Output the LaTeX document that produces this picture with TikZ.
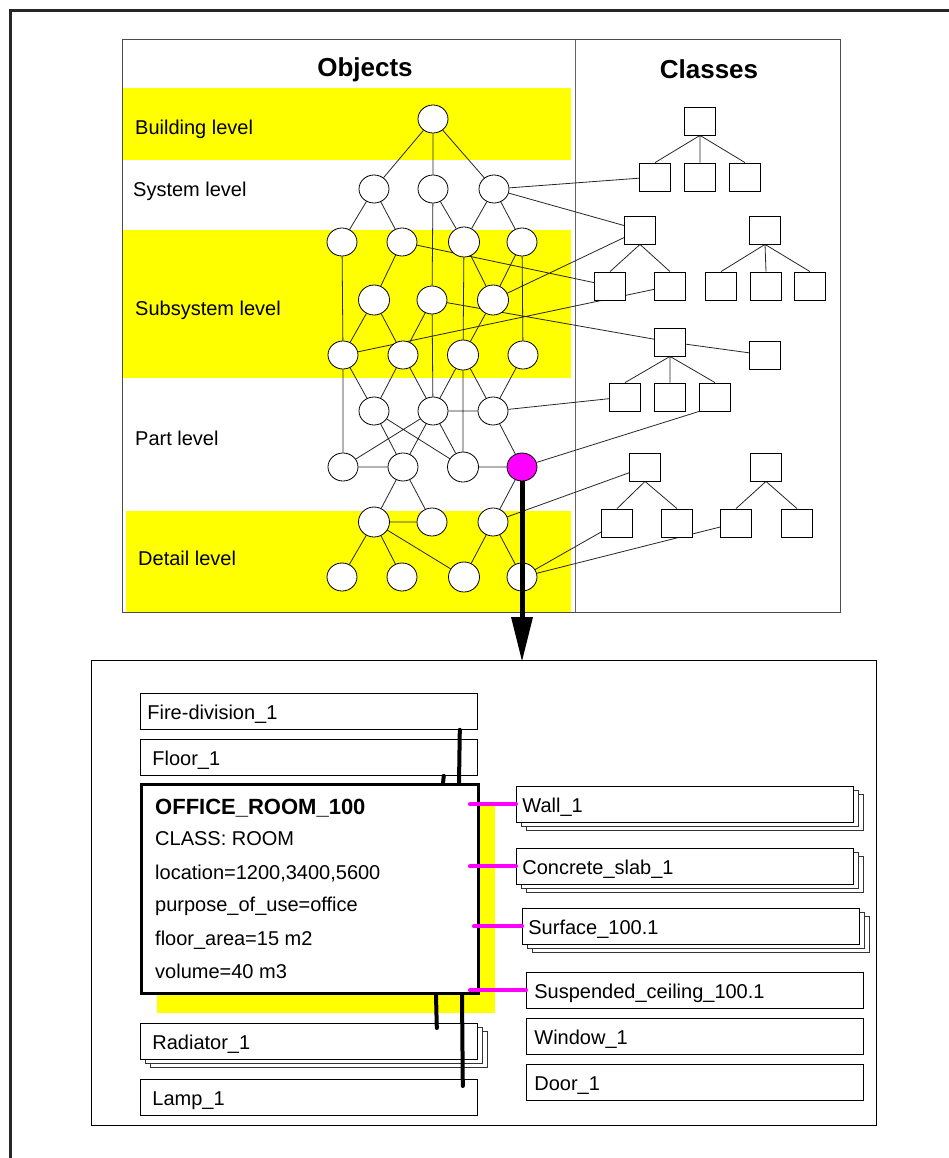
\documentclass[tikz,border=0pt]{standalone}
\usepackage{fontspec}
\setmainfont{Liberation Sans}
\usetikzlibrary{shapes.geometric,shadows}
\pgfdeclarelayer{bands}
\pgfdeclarelayer{edges}
\pgfsetlayers{bands,edges,main}
\definecolor{hiyellow}{RGB}{255,255,0}
\definecolor{hipink}{RGB}{255,0,255}
\begin{document}
\begin{tikzpicture}[x=1pt,y=-1pt,
  objn/.style={ellipse,draw,fill=white,line width=0.8pt,minimum width=30pt,minimum height=28pt,inner sep=0pt},
  bign/.style={objn,minimum width=31pt,minimum height=30pt},
  clsn/.style={rectangle,draw,fill=white,line width=0.8pt,minimum width=31pt,minimum height=28pt,inner sep=0pt},
  gline/.style={line width=0.8pt,black!85},
  hdr/.style={font=\fontsize{26}{30}\selectfont\bfseries,inner sep=0pt,anchor=base},
  lvl/.style={font=\fontsize{20}{24}\selectfont,inner sep=0pt,anchor=base west},
  ibox/.style={rectangle,draw,fill=white,line width=0.8pt,anchor=north west,minimum height=36pt,inner sep=0pt,text height=18pt,text depth=2pt,text width=337pt,align=left,font=\fontsize{20}{24}\selectfont},
  stack/.style={general shadow={shadow xshift=10pt,shadow yshift=-8pt,fill=white,draw=black!80,line width=0.8pt},
                general shadow={shadow xshift=5pt,shadow yshift=-4pt,fill=white,draw=black!80,line width=0.8pt}},
  otext/.style={font=\fontsize{20}{24}\selectfont,inner sep=0pt,anchor=base west},
  thickln/.style={line width=4pt,line cap=round},
  pinkln/.style={line width=4pt,draw=hipink,line cap=round},
]
\useasboundingbox (0,0) rectangle (949,1158);

% outer frame
\draw[line width=3pt,black!85] (949,10.5) -- (10.5,10.5) -- (10.5,1158);

% bands
\begin{pgfonlayer}{bands}
\fill[hiyellow] (123,88) rectangle (571,160);
\fill[hiyellow] (123,230) rectangle (571,378);
\fill[hiyellow] (126,511) rectangle (571,612);
\draw[line width=1pt,black!70] (122,40) rectangle (840,612);
\draw[line width=1pt,black!60] (575,40) -- (575,612);
\fill[hiyellow] (157,802) rectangle (495,1013);
\end{pgfonlayer}

% headers and level labels
\node[hdr] (hobj) at (365,77) {Objects};
\node[hdr] (hcls) at (709,79) {Classes};
\node[lvl] (lbld) at (135,135) {Building level};
\node[lvl] (lsys) at (133,197) {System level};
\node[lvl] (lsub) at (135,315) {Subsystem level};
\node[lvl] (lpart) at (135,445) {Part level};
\node[lvl] (ldet) at (138,565) {Detail level};

% object nodes
\node[objn] (bld) at (433,119) {};
\node[objn] (sys1) at (374,189) {};
\node[objn] (sys2) at (433,189) {};
\node[objn] (sys3) at (494,189) {};
\node[objn] (sa1) at (342,242) {};
\node[objn] (sa2) at (402,242) {};
\node[bign] (sa3) at (464,242) {};
\node[objn] (sa4) at (522,242) {};
\node[bign] (sb1) at (374,300) {};
\node[objn] (sb2) at (432,300) {};
\node[bign] (sb3) at (493,300) {};
\node[objn] (sc1) at (343,355) {};
\node[objn] (sc2) at (403,355) {};
\node[bign] (sc3) at (463,355) {};
\node[objn] (sc4) at (523,355) {};
\node[objn] (pa1) at (374,411) {};
\node[objn] (pa2) at (433,411) {};
\node[objn] (pa3) at (493,411) {};
\node[objn] (pb1) at (343,467) {};
\node[objn] (pb2) at (403,467) {};
\node[bign] (pb3) at (463,467) {};
\node[objn,fill=hipink] (pb4) at (522,467) {};
\node[bign] (da1) at (374,522) {};
\node[objn] (da2) at (432,522) {};
\node[objn] (da3) at (493,522) {};
\node[objn] (db1) at (342,577) {};
\node[objn] (db2) at (402,577) {};
\node[bign] (db3) at (464,577) {};
\node[objn] (db4) at (522,577) {};

% class nodes
\node[clsn] (t1r) at (700,121) {};
\node[clsn] (t1a) at (655,177) {};
\node[clsn] (t1b) at (700,177) {};
\node[clsn] (t1c) at (745,177) {};
\node[clsn] (t2r) at (640,230) {};
\node[clsn] (t2a) at (610,286) {};
\node[clsn] (t2b) at (670,286) {};
\node[clsn] (t6r) at (765,230) {};
\node[clsn] (t6a) at (721,286) {};
\node[clsn] (t6b) at (766,286) {};
\node[clsn] (t6c) at (810,286) {};
\node[clsn] (t3r) at (670,342) {};
\node[clsn] (t3a) at (625,397) {};
\node[clsn] (t3b) at (670,397) {};
\node[clsn] (t3c) at (715,397) {};
\node[clsn] (t3x) at (765,355) {};
\node[clsn] (t4r) at (645,467) {};
\node[clsn] (t4a) at (617,523) {};
\node[clsn] (t4b) at (677,523) {};
\node[clsn] (t5r) at (766,467) {};
\node[clsn] (t5a) at (736,523) {};
\node[clsn] (t5b) at (797,523) {};

\begin{pgfonlayer}{edges}
\draw[gline] (bld)--(sys1) (bld)--(sys2) (bld)--(sys3)
  (sys1)--(sa1) (sys1)--(sa2) (sys2)--(sa3) (sys3)--(sa3) (sys3)--(sa4)
  (sys2)--(sb2) (sb2)--(pa2)
  (sa1)--(sc1) (sa2)--(sb1) (sa3)--(sc3) (sa3)--(sb3) (sa4)--(sb3) (sa4)--(sc4)
  (sb1)--(sc1) (sb1)--(sc2) (sb2)--(sc2) (sb3)--(sc3)
  (sc1)--(pa1) (sc1)--(pb1) (sc2)--(pa1) (sc2)--(pa2) (sc3)--(pa2) (sc3)--(pa3) (sc3)--(pb3) (sc4)--(pa3)
  (pa1)--(pb2) (pa1)--(pb3) (pa2)--(pb1) (pa2)--(pb2) (pa2)--(pb3) (pa2)--(pa3) (pa3)--(pb4)
  (pb1)--(pb2) (pb3)--(pb4) (pb2)--(da1) (pb2)--(da2) (pb4)--(da3)
  (da1)--(da2) (da1)--(db1) (da1)--(db2) (da1)--(db3) (da3)--(db3) (da3)--(db4);
% object to class links
\draw[gline] (sys3)--(t1a) (sys3)--(t2r) (sa2)--(t2a) (sb3)--(t2r) (sc1)--(t2b)
  (sb2)--(t3r) (pa3)--(t3a) (pb4)--(t3c.south west) (da3)--(t4r) (db4)--(t4a) (db4)--(t5a);
% class trees
\draw[gline] (t1r.south)--(t1a.north) (t1r.south)--(t1b.north) (t1r.south)--(t1c.north)
  (t2r.south)--(t2a.north) (t2r.south)--(t2b.north)
  (t6r.south)--(t6a.north) (t6r.south)--(t6b.north) (t6r.south)--(t6c.north)
  (t3r.south)--(t3a.north) (t3r.south)--(t3b.north) (t3r.south)--(t3c.north) (t3r)--(t3x)
  (t4r.south)--(t4a.north) (t4r.south)--(t4b.north)
  (t5r.south)--(t5a.north) (t5r.south)--(t5b.north);
\end{pgfonlayer}

% thick arrow
\coordinate (atip) at (522,661);
\draw[line width=5pt] (pb4.south) -- ([yshift=42pt]atip);
\fill ([xshift=-11pt,yshift=44pt]atip) -- (atip) -- ([xshift=11pt,yshift=44pt]atip) -- cycle;

% bottom panel
\draw[line width=1pt] (91,660) rectangle (876,1125);

\node[ibox] (fire) at (140,693) {\hspace*{7pt}Fire-division\_1};
\node[ibox] (floor) at (140,739) {\hspace*{12pt}Floor\_1};
\node[draw,line width=3pt,fill=white,minimum width=337pt,minimum height=209pt,anchor=north west,inner sep=0pt] (office) at (140,783) {};
\node[otext,font=\fontsize{22}{26}\selectfont\bfseries] (o1) at (155,814) {OFFICE\_ROOM\_100};
\node[otext] (o2) at (155,845) {CLASS: ROOM};
\node[otext] (o3) at (155,879) {location=1200,3400,5600};
\node[otext] (o4) at (155,911) {purpose\_of\_use=office};
\node[otext] (o5) at (155,945) {floor\_area=15 m2};
\node[otext] (o6) at (155,978) {volume=40 m3};

\node[ibox,stack] (rad) at (140,1023) {\hspace*{12pt}Radiator\_1};
\node[ibox] (lamp) at (140,1079) {\hspace*{12pt}Lamp\_1};

\node[ibox,stack] (wall) at (516,786) {\hspace*{6pt}Wall\_1};
\node[ibox,stack] (slab) at (516,848) {\hspace*{6pt}Concrete\_slab\_1};
\node[ibox,stack] (surf) at (522,908) {\hspace*{6pt}Surface\_100.1};
\node[ibox] (ceil) at (526,972) {\hspace*{8pt}Suspended\_ceiling\_100.1};
\node[ibox] (win) at (526,1018) {\hspace*{8pt}Window\_1};
\node[ibox] (door) at (526,1064) {\hspace*{8pt}Door\_1};

% thick black connectors
\draw[thickln] ([xshift=-18pt]fire.south east) -- ([xshift=-21pt]office.north east);
\draw[thickln] ([xshift=-34pt]floor.south east) -- ([xshift=-37pt]office.north east);
\draw[thickln] ([xshift=-44pt]office.south east) -- ([xshift=-41pt,yshift=-5pt]rad.north east);
\draw[thickln] ([xshift=-18pt]office.south east) -- ([xshift=-15pt,yshift=-7pt]lamp.north east);

% magenta connectors
\coordinate (mx) at (470,0);
\coordinate (mxs) at (474,0);
\draw[pinkln] (mx |- wall.west) -- (wall.west);
\draw[pinkln] (mx |- slab.west) -- (slab.west);
\draw[pinkln] (mxs |- surf.west) -- (surf.west);
\draw[pinkln] (mx |- ceil.west) -- (ceil.west);
\end{tikzpicture}
\end{document}
